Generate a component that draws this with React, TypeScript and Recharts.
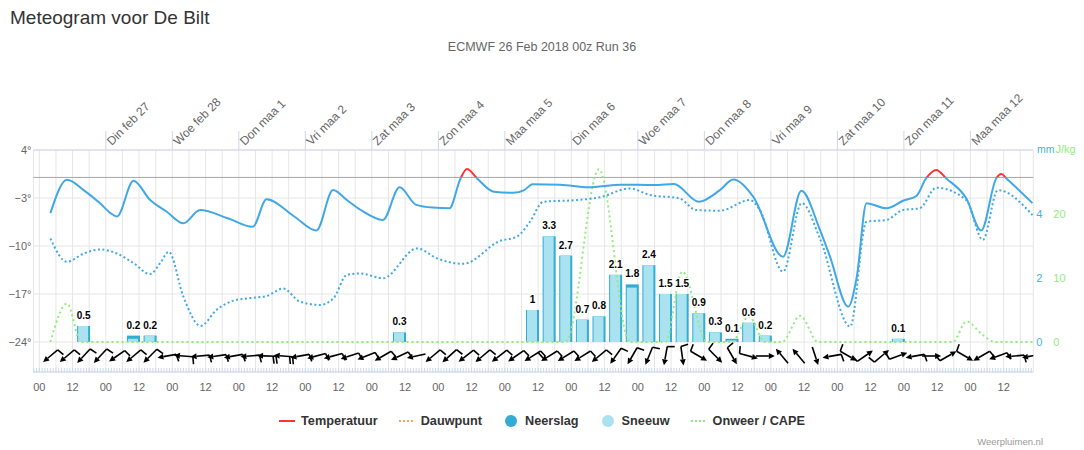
import React from 'react';
import {
  ComposedChart,
  Line,
  Bar,
  Scatter,
  XAxis,
  YAxis,
  CartesianGrid,
  ReferenceLine,
  LabelList,
} from 'recharts';

// ---------- data ----------
// hours counted from Mon 26 Feb 2018 00:00
const dayHours = [24, 48, 72, 96, 120, 144, 168, 192, 216, 240, 264, 288, 312, 336];
const dayLabels = [
  'Din feb 27', 'Woe feb 28', 'Don maa 1', 'Vri maa 2', 'Zat maa 3', 'Zon maa 4', 'Maa maa 5',
  'Din maa 6', 'Woe maa 7', 'Don maa 8', 'Vri maa 9', 'Zat maa 10', 'Zon maa 11', 'Maa maa 12',
];
const hourLabels = ['00', '12'];
const hourTicks = Array.from({ length: 361 }, (_, i) => i - 2);
const gridTicks = Array.from({ length: 60 }, (_, i) => i * 6);
const tempTicks = [-24, -17, -10, -3, 4];
const mmTicks = [0, 2, 4];
const capeTicks = [0, 10, 20];

const temperature: [number, number][] = [
  [4, -5.2], [10, -0.35], [16, -1.85], [22, -3.8], [25.7, -5.2], [28, -5.7], [34, -0.5], [40, -3.3],
  [46, -5.0], [52, -6.7], [58, -4.75], [68, -5.95], [77, -7.2], [82, -3.2], [92, -5.7], [100, -7.75],
  [106, -1.85], [111, -3.3], [116, -4.75], [124, -6.2], [130, -1.45], [136, -4.0], [142, -4.4],
  [148, -4.5], [152, -0.15], [154.3, 1.23], [158, -0.15], [164, -2.1], [171, -2.25], [175, -1.85],
  [178, -1.0], [188, -1.05], [198, -1.45], [210, -1.05], [222, -1.1], [229, -0.95], [238, -3.55],
  [245.6, -1.85], [250.4, -0.3], [257.6, -2.8], [268.4, -11.55], [275, -1.95], [281.7, -7.65],
  [285.3, -11.5], [291.9, -18.85], [295, -14.5], [298.5, -3.75], [305.7, -4.5], [311.7, -3.4],
  [316.5, -2.7], [320, -0.15], [323.7, 1.08], [327.3, -0.15], [334.5, -3.05], [339.9, -7.75],
  [345.3, -0.15], [347.2, 0.5], [349, -0.15], [358.4, -3.75],
];

const dewpoint: [number, number][] = [
  [4, -8.9], [10, -12.3], [16, -11.1], [22, -10.5], [28, -11.1], [34, -12.5], [40, -14.1], [43.6, -12.5],
  [46.7, -10.85], [52, -17.4], [58.2, -21.65], [64, -19.3], [70, -17.97], [76, -17.6], [82, -17.3],
  [88, -16.2], [94, -18.1], [101.4, -18.6], [106.2, -17.6], [111, -14.2], [115.8, -14.0], [124, -14.7],
  [136.3, -10.35], [143.5, -11.8], [153, -12.6], [166.3, -9.25], [172.3, -8.65], [177, -6.5],
  [181.9, -3.55], [194, -3.3], [202.3, -2.9], [213, -1.6], [220.3, -2.55], [231, -3.05], [237, -4.75],
  [245.6, -4.85], [256.4, -3.3], [260, -4.75], [268.4, -13.75], [275.1, -3.75], [281.7, -8.9],
  [292.6, -21.75], [298.5, -6.45], [305.7, -6.2], [311.7, -4.75], [317.7, -4.5], [323.7, -1.5],
  [334.5, -3.3], [340.5, -9.1], [345.9, -1.85], [358.4, -5.5],
];

const cape: [number, number][] = [
  [4, 0], [10, 6], [15, 0], [190, 0], [202, 27], [213, 0], [226, 0], [232, 11], [241, 0], [250, 0],
  [256, 4], [262, 0], [268, 0], [274.6, 4.1], [281, 0], [329.7, 0], [334.5, 3.2], [340.5, 1.1],
  [345, 0], [358.4, 0],
];

const precipHours = [16, 34, 40, 130, 178, 184, 190, 196, 202, 208, 214, 220, 226, 232, 238, 244, 250, 256, 262, 310];
const neerslag = [0.5, 0.2, 0.2, 0.3, 1, 3.3, 2.7, 0.7, 0.8, 2.1, 1.8, 2.4, 1.5, 1.5, 0.9, 0.3, 0.1, 0.6, 0.2, 0.1];
const sneeuw = [0.5, 0.1, 0.2, 0.3, 1, 3.3, 2.7, 0.7, 0.8, 2.1, 1.7, 2.4, 1.5, 1.5, 0.9, 0.3, 0.05, 0.6, 0.2, 0.1];

// wind: direction the wind comes from (deg) and number of barbs, every 6 h from hour 4
const windHours = Array.from({ length: 60 }, (_, i) => 4 + i * 6);
const windDir = [
  50, 50, 43, 43, 55, 50, 45, 80, 95, 85, 82, 80, 85, 92, 95, 80, 75, 75, 72, 68,
  60, 65, 78, 50, 48, 52, 50, 52, 55, 58, 58, 58, 58, 50, 35, 30, 22, 10, 352, 300,
  315, 330, 285, 270, 140, 140, 342, 80, 300, 235, 230, 250, 80, 270, 240, 300, 60, 70, 85, 80,
];
const windBarbs = [
  1, 1, 1, 1, 1, 1, 1, 1, 1, 1, 1, 1, 1, 2, 2, 1, 1, 1, 1, 1,
  1, 1, 0, 1, 1, 1, 1, 1, 1, 2, 1, 1, 1, 1, 1, 1, 1, 1, 1, 1,
  1, 1, 1, 0, 0, 0, 0, 1, 1, 1, 1, 1, 1, 0, 1, 1, 1, 1, 1, 1,
];
const windRowLevel = -26.04;

// ---------- derived tables ----------
const tempData = temperature.map(([h, t]) => ({ h, t }));
const dewData = dewpoint.map(([h, t]) => ({ h, t }));
const capeData = cape.map(([h, c]) => ({ h, c }));
const precipData = precipHours.map((h, i) => ({ h, n: neerslag[i], s: sneeuw[i] }));
const windData = windHours.map((h, i) => ({ h, y: windRowLevel, dir: windDir[i], barbs: windBarbs[i] }));

const tMax = Math.max(...temperature.map((p) => p[1]));
const tMin = Math.min(...temperature.map((p) => p[1]));
const zeroStop = tMax > 0 ? tMax / (tMax - tMin) : 0;

// ---------- styling ----------
const X_DOMAIN: [number, number] = [-2.1, 358.7];
const TEMP_DOMAIN: [number, number] = [-28.375, 4];
const MM_DOMAIN: [number, number] = [-0.9375, 6];
const CAPE_DOMAIN: [number, number] = [-4.6875, 30];
const BLUE = '#41a8e6';
const RED = '#ff3333';
const DARK = '#31acd5';
const LIGHT = '#aae2f0';
const GREEN = '#90ed7d';
const ORANGE = '#f7a35c';
const MMCOL = '#3fb4df';
const AXIS = '#ccd6eb';
const GRID = '#e6e6e6';
const FONT = "'Liberation Sans', Arial, sans-serif";

const legendItems = [
  { name: 'Temperatuur', color: RED, kind: 'line' },
  { name: 'Dauwpunt', color: ORANGE, kind: 'dots' },
  { name: 'Neerslag', color: DARK, kind: 'circle' },
  { name: 'Sneeuw', color: LIGHT, kind: 'circle' },
  { name: 'Onweer / CAPE', color: GREEN, kind: 'dots' },
];

const fmtTemp = (v: number) => `${v < 0 ? '\u2212' : ''}${Math.abs(v)}°`;

const DayTick = (props: any) => {
  const { x, y, payload } = props;
  const idx = dayHours.indexOf(payload.value);
  const px = x + 6;
  const py = y + 17;
  return (
    <text x={px} y={py} transform={`rotate(-45 ${px} ${py})`} fill="#666" fontSize={12} fontFamily={FONT} textAnchor="start">
      {idx >= 0 ? dayLabels[idx] : ''}
    </text>
  );
};

const HourTick = (props: any) => {
  const { x, y, payload } = props;
  const v = payload.value;
  if (((v % 12) + 12) % 12 !== 0) return <g />;
  return (
    <text x={x} y={y} dy={21} textAnchor="middle" fill="#666" fontSize={11} fontFamily={FONT}>
      {hourLabels[(v / 12) % 2]}
    </text>
  );
};

const PrecipShape = (props: any) => {
  const { x, y, width, height, payload } = props;
  if (x == null || !(height > 0)) return <g />;
  const cx = x + width / 2;
  const w = 13;
  const hs = payload.n > 0 ? (height * payload.s) / payload.n : 0;
  return (
    <g>
      <rect x={cx - w / 2} y={y} width={w} height={height} fill={DARK} />
      <rect x={cx - w / 2 + 1} y={y + height - hs} width={w - 3} height={hs} fill={LIGHT} />
    </g>
  );
};

const WindShape = (props: any) => {
  const { cx, cy, payload } = props;
  if (cx == null || cy == null) return <g />;
  const a = (payload.dir * Math.PI) / 180;
  const ux = Math.sin(a);
  const uy = -Math.cos(a); // towards tail
  const half = 9.5;
  const hx = cx - ux * half;
  const hy = cy - uy * half;
  const sx = cx + ux * half;
  const sy = cy + uy * half;
  const ah = 6;
  const aw = 3;
  const bx = hx + ux * ah;
  const by = hy + uy * ah;
  const px = -uy;
  const py = ux;
  const tri = `${hx},${hy} ${bx + px * aw},${by + py * aw} ${bx - px * aw},${by - py * aw}`;
  const b = a + (80 * Math.PI) / 180;
  const vx = Math.sin(b);
  const vy = -Math.cos(b);
  const barbs = [];
  for (let i = 0; i < payload.barbs; i++) {
    const ox = sx - ux * 3 * i;
    const oy = sy - uy * 3 * i;
    barbs.push(<line key={i} x1={ox} y1={oy} x2={ox + vx * 7.5} y2={oy + vy * 7.5} stroke="#000" strokeWidth={1.6} />);
  }
  return (
    <g>
      <line x1={bx} y1={by} x2={sx} y2={sy} stroke="#000" strokeWidth={1.6} />
      <polygon points={tri} fill="#000" />
      {barbs}
    </g>
  );
};

const LegendSymbol = ({ item }: { item: any }) => (
  <svg width={16} height={12} style={{ display: 'block' }}>
    {item.kind === 'line' && <line x1={0} y1={6} x2={16} y2={6} stroke={item.color} strokeWidth={2} />}
    {item.kind === 'dots' && <line x1={0} y1={6} x2={16} y2={6} stroke={item.color} strokeWidth={2} strokeDasharray="2 2" />}
    {item.kind === 'circle' && <circle cx={8} cy={6} r={6} fill={item.color} />}
  </svg>
);

if (typeof document !== 'undefined') {
  document.body.style.margin = '0';
}

export default function App() {
  return (
    <div style={{ position: 'absolute', left: 0, top: 0, width: 1084, height: 450, background: '#fff', fontFamily: FONT }}>
      <ComposedChart width={1084} height={450} data={precipData} margin={{ top: 130, right: 0, bottom: 58, left: 0 }}>
        <defs>
          <linearGradient id="tempStroke" x1="0" y1="0" x2="0" y2="1">
            <stop offset={0} stopColor={RED} />
            <stop offset={zeroStop} stopColor={RED} />
            <stop offset={zeroStop} stopColor={BLUE} />
            <stop offset={1} stopColor={BLUE} />
          </linearGradient>
        </defs>
        <XAxis
          xAxisId="days"
          orientation="top"
          type="number"
          dataKey="h"
          domain={X_DOMAIN}
          allowDataOverflow
          ticks={dayHours}
          interval={0}
          height={20}
          tickSize={19}
          tickMargin={2}
          axisLine={{ stroke: AXIS }}
          tickLine={{ stroke: AXIS }}
          tick={DayTick}
        />
        <XAxis
          xAxisId="hours"
          orientation="bottom"
          type="number"
          dataKey="h"
          domain={X_DOMAIN}
          allowDataOverflow
          ticks={hourTicks}
          interval={0}
          height={20}
          tickSize={-4}
          tickMargin={2}
          axisLine={{ stroke: AXIS }}
          tickLine={{ stroke: AXIS }}
          tick={HourTick}
        />
        <XAxis
          xAxisId="six"
          hide
          type="number"
          dataKey="h"
          domain={X_DOMAIN}
          allowDataOverflow
          ticks={gridTicks}
          interval={0}
        />
        <YAxis
          yAxisId="temp"
          orientation="left"
          width={33.5}
          domain={TEMP_DOMAIN}
          allowDataOverflow
          ticks={tempTicks}
          interval={0}
          axisLine={false}
          tickLine={false}
          tickSize={0}
          tickMargin={2}
          tickFormatter={fmtTemp}
          tick={{ fill: '#666', fontSize: 11, fontFamily: FONT }}
        />
        <YAxis
          yAxisId="r1mm"
          orientation="right"
          width={17}
          domain={MM_DOMAIN}
          allowDataOverflow
          ticks={mmTicks}
          interval={0}
          axisLine={false}
          tickLine={false}
          tickSize={0}
          tickMargin={3}
          tick={{ fill: MMCOL, fontSize: 11, fontFamily: FONT }}
        />
        <YAxis
          yAxisId="r2cape"
          orientation="right"
          width={33.7}
          domain={CAPE_DOMAIN}
          allowDataOverflow
          ticks={capeTicks}
          interval={0}
          axisLine={false}
          tickLine={false}
          tickSize={0}
          tickMargin={3}
          tick={{ fill: GREEN, fontSize: 11, fontFamily: FONT }}
        />
        <YAxis yAxisId="wind" hide dataKey="y" domain={TEMP_DOMAIN} allowDataOverflow />
        <CartesianGrid xAxisId="six" yAxisId="temp" stroke={GRID} />
        <ReferenceLine yAxisId="temp" xAxisId="hours" y={0} stroke="#a6a6a6" strokeWidth={1} />
        <Bar
          xAxisId="hours"
          yAxisId="r1mm"
          dataKey="n"
          barSize={13}
          shape={PrecipShape}
          isAnimationActive={false}
        >
          <LabelList
            dataKey="n"
            position="top"
            offset={7}
            fill="#000"
            fontSize={10}
            fontWeight="bold"
            fontFamily={FONT}
            stroke="#fff"
            strokeWidth={2}
            paintOrder="stroke"
          />
        </Bar>
        <Line
          xAxisId="six"
          yAxisId="r2cape"
          data={capeData}
          dataKey="c"
          type="monotone"
          stroke={GREEN}
          strokeWidth={2}
          strokeDasharray="2 3"
          dot={false}
          activeDot={false}
          isAnimationActive={false}
        />
        <Line
          xAxisId="days"
          yAxisId="temp"
          data={dewData}
          dataKey="t"
          type="monotone"
          stroke={BLUE}
          strokeWidth={2}
          strokeDasharray="2 2.5"
          dot={false}
          activeDot={false}
          isAnimationActive={false}
        />
        <Line
          xAxisId="hours"
          yAxisId="temp"
          data={tempData}
          dataKey="t"
          type="monotone"
          stroke="url(#tempStroke)"
          strokeWidth={2}
          dot={false}
          activeDot={false}
          isAnimationActive={false}
        />
        <Scatter
          xAxisId="six"
          yAxisId="wind"
          data={windData}
          dataKey="y"
          shape={WindShape}
          isAnimationActive={false}
        />
      </ComposedChart>

      <svg width={1084} height={450} style={{ position: 'absolute', left: 0, top: 0, pointerEvents: 'none' }}>
        <text x={10} y={24} fontSize={19} fill="#333" fontFamily={FONT}>Meteogram voor De Bilt</text>
        <text x={542} y={51} fontSize={12.5} fill="#666" textAnchor="middle" fontFamily={FONT}>ECMWF 26 Feb 2018 00z Run 36</text>
        <text x={1037} y={153} fontSize={10.5} fill={MMCOL} fontFamily={FONT}>mm</text>
        <text x={1055.5} y={153} fontSize={11} fill={GREEN} fontFamily={FONT}>J/kg</text>
        <text x={1043} y={445} fontSize={9.5} fill="#999" textAnchor="end" fontFamily={FONT}>Weerpluimen.nl</text>
      </svg>

      <div
        style={{
          position: 'absolute',
          left: 0,
          top: 412,
          width: 1084,
          display: 'flex',
          justifyContent: 'center',
          alignItems: 'center',
        }}
      >
        {legendItems.map((item, i) => (
          <div key={item.name} style={{ display: 'flex', alignItems: 'center', marginLeft: i === 0 ? 0 : 21 }}>
            <LegendSymbol item={item} />
            <span style={{ marginLeft: 6, fontSize: 12.7, fontWeight: 'bold', color: '#333', lineHeight: '18px' }}>{item.name}</span>
          </div>
        ))}
      </div>
    </div>
  );
}
